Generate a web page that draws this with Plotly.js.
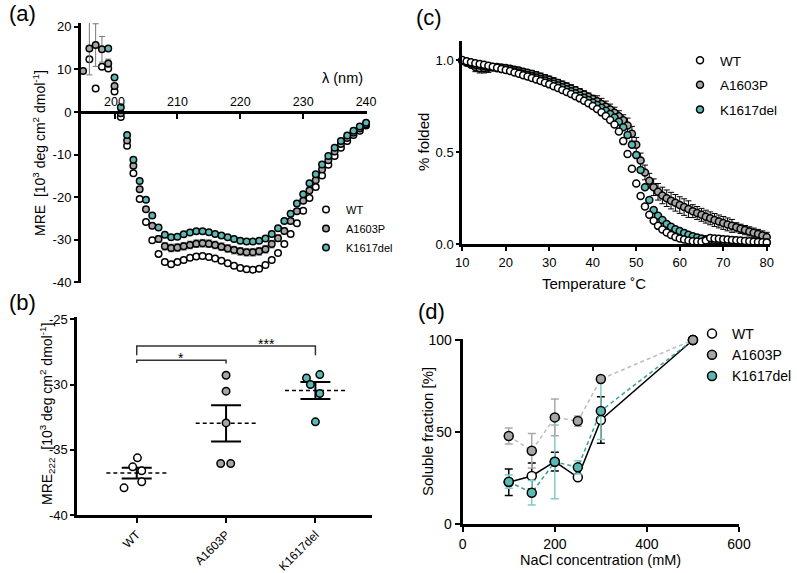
<!DOCTYPE html>
<html><head><meta charset="utf-8">
<script src="https://cdn.plot.ly/plotly-3.0.1.min.js"></script>
<style>html,body{margin:0;padding:0;background:#fff}#chart{width:797px;height:573px}</style>
</head><body><div id="chart"></div>
<script>
// ================= DATA =================
// (a) CD spectra
const cdWavelength = [195,196,197,198,199,200,201,202,203,204,205,206,207,208,209,210,211,212,213,214,215,216,217,218,219,220,221,222,223,224,225,226,227,228,229,230,231,232,233,234,235,236,237,238,239,240];
const cdWT = [null,12.4,5.5,10.6,10.2,4.8,-1.2,-7.9,-14.4,-20.4,-25.8,-30.1,-33.3,-35.2,-35.7,-35.2,-34.7,-34.2,-33.9,-33.8,-34.0,-34.4,-34.9,-35.5,-36.1,-36.6,-36.9,-37.0,-36.8,-35.9,-34.7,-33.1,-31.0,-28.6,-26.1,-23.2,-20.2,-17.6,-14.9,-12.4,-10.3,-8.4,-6.8,-5.4,-4.4,-3.2];
const cdA1603P = [9.6,14.9,15.7,14.7,11.4,6.1,-0.3,-6.7,-12.6,-18.1,-22.8,-26.7,-29.8,-31.5,-31.9,-31.8,-31.5,-31.2,-30.9,-30.8,-30.9,-31.2,-31.6,-32.0,-32.4,-32.7,-32.9,-32.9,-32.7,-32.2,-31.0,-29.6,-27.9,-25.6,-23.3,-20.8,-18.4,-16.0,-13.5,-11.3,-9.3,-7.5,-6.1,-4.9,-3.9,-2.9];
const cdA1603Perr = [0,6.2,5.0,3.0,1.0,0.5,0.5,0.5,0.5,0.5,0.5,0.6,0.8,0.9,0.9,0.9,0.9,0.9,0.9,0.9,0.9,0.9,0.9,0.9,0.9,0.9,0.9,0.9,0.9,0.9,0.9,0.8,0.7,0.6,0.5,0.5,0.5,0.5,0.5,0.5,0.4,0.4,0.4,0.4,0.4,0.4];
const cdK1617del = [null,null,null,null,14.9,8.1,1.1,-5.4,-11.2,-16.2,-20.6,-24.3,-27.1,-28.8,-29.4,-29.3,-28.7,-28.3,-28.0,-28.0,-28.2,-28.6,-29.0,-29.4,-29.8,-30.2,-30.4,-30.4,-30.2,-29.7,-28.6,-27.3,-25.6,-23.9,-21.5,-19.3,-16.7,-14.6,-12.3,-10.3,-8.4,-6.8,-5.5,-4.4,-3.4,-2.5];

// (b) MRE at 222 nm, individual replicates
const groups = ['WT','A1603P','K1617del'];
const mreWT = [-35.62,-36.31,-36.61,-37.92,-37.46];
const mreA1603P = [-29.29,-30.51,-32.94,-36.05,-36.05];
const mreK1617del = [-29.49,-29.24,-30.00,-30.69,-32.86];
const jitterWT = [0.008,-0.045,0.056,-0.142,0.056];
const jitterA1603P = [0,0,0,-0.06,0.052];
const jitterK1617del = [-0.1,0.049,-0.056,0.049,0];
const sigLabels = ['*','***'];

// (c) thermal melt
const temperature = [10,11,12,13,14,15,16,17,18,19,20,21,22,23,24,25,26,27,28,29,30,31,32,33,34,35,36,37,38,39,40,41,42,43,44,45,46,47,48,49,50,51,52,53,54,55,56,57,58,59,60,61,62,63,64,65,66,67,68,69,70,71,72,73,74,75,76,77,78,79,80];
const foldWT = [1.000,0.993,0.988,0.983,0.978,0.974,0.969,0.964,0.958,0.952,0.946,0.940,0.933,0.926,0.918,0.911,0.903,0.895,0.886,0.877,0.868,0.858,0.848,0.838,0.827,0.816,0.804,0.792,0.779,0.765,0.750,0.734,0.716,0.697,0.675,0.650,0.612,0.560,0.490,0.410,0.330,0.262,0.205,0.160,0.128,0.100,0.080,0.064,0.050,0.040,0.032,0.026,0.021,0.017,0.015,0.014,0.020,0.034,0.032,0.030,0.028,0.026,0.024,0.022,0.020,0.018,0.016,0.014,0.012,0.011,0.010];
const foldA1603P = [0.995,0.985,0.975,0.962,0.955,0.955,0.958,0.962,0.962,0.960,0.957,0.953,0.948,0.943,0.937,0.931,0.924,0.917,0.909,0.901,0.893,0.884,0.875,0.866,0.856,0.846,0.836,0.825,0.813,0.801,0.789,0.776,0.762,0.747,0.731,0.714,0.695,0.673,0.645,0.600,0.540,0.455,0.390,0.345,0.310,0.285,0.265,0.250,0.237,0.225,0.213,0.202,0.191,0.180,0.170,0.160,0.150,0.141,0.132,0.124,0.116,0.108,0.100,0.092,0.084,0.077,0.070,0.063,0.056,0.048,0.040];
const foldA1603Perr = [0.01,0.01,0.01,0.025,0.025,0.025,0.025,0.015,0.015,0.015,0.015,0.015,0.015,0.015,0.015,0.015,0.02,0.02,0.02,0.02,0.02,0.02,0.02,0.02,0.02,0.02,0.02,0.02,0.02,0.02,0.02,0.03,0.03,0.03,0.03,0.03,0.03,0.03,0.04,0.04,0.04,0.04,0.04,0.04,0.045,0.045,0.045,0.045,0.045,0.045,0.045,0.045,0.045,0.035,0.035,0.035,0.035,0.035,0.035,0.035,0.035,0.035,0.035,0.025,0.025,0.025,0.025,0.025,0.025,0.025,0.025];
const foldK1617del = [0.997,0.990,0.983,0.975,0.970,0.966,0.963,0.960,0.956,0.952,0.948,0.943,0.938,0.932,0.926,0.919,0.912,0.905,0.897,0.889,0.880,0.871,0.862,0.852,0.842,0.831,0.820,0.808,0.796,0.783,0.770,0.756,0.741,0.725,0.707,0.688,0.665,0.635,0.593,0.540,0.484,0.403,0.310,0.240,0.186,0.155,0.132,0.110,0.095,0.082,0.072,0.062,0.052,0.044,0.037,0.031,0.027,0.024,0.022,0.020,0.018,0.017,0.016,0.015,0.014,0.013,0.012,0.011,0.010,0.010,0.010];

// (d) solubility vs NaCl
const nacl = [100,150,200,250,300,500];
const solWT = [22.8,26.2,34.0,25.5,56.6,100];
const solWTerr = [7.2,7.0,5.1,1.0,12.6,0];
const solA1603P = [47.9,39.9,58.0,56.0,78.8,100];
const solA1603Perr = [4.4,9.4,10.0,2.8,0,0];
const solK1617del = [23.1,17.1,33.9,30.9,61.5,100];
const solK1617delerr = [3.6,6.6,20.0,3.6,15.5,0];

// ================= STYLE / LAYOUT =================
const W = 797, H = 573;
const px = v => v / W;
const py = v => 1 - v / H;
const F = 'Liberation Sans, Arial, Helvetica, sans-serif';
const TEAL = '#5cb8b2', GRAY = '#a6a6a6', WHITE = '#ffffff';

function axisBase(extra) {
  return Object.assign({
    showline: true, linecolor: '#000', linewidth: 3,
    ticks: 'outside', tickwidth: 2, ticklen: 4, tickcolor: '#000',
    showgrid: false, zeroline: false, fixedrange: true,
    tickfont: {family: F, size: 13, color: '#000'}
  }, extra);
}

const mk = (fill, size) => ({size: size, color: fill, line: {color: '#000', width: 1.5}});

const traces = [];

// ---- (a)
traces.push({x: cdWavelength, y: cdWT, xaxis: 'x', yaxis: 'y', mode: 'markers', name: 'WT',
  legend: 'legend', legendrank: 1, marker: mk(WHITE, 6.5), cliponaxis: false});
traces.push({x: cdWavelength, y: cdA1603P, xaxis: 'x', yaxis: 'y', mode: 'markers', name: 'A1603P',
  legend: 'legend', legendrank: 2, marker: mk(GRAY, 6.5), cliponaxis: false,
  error_y: {type: 'data', array: cdA1603Perr, color: '#777', thickness: 1, width: 3}});
traces.push({x: cdWavelength, y: cdK1617del, xaxis: 'x', yaxis: 'y', mode: 'markers', name: 'K1617del',
  legend: 'legend', legendrank: 3, marker: mk(TEAL, 6.5), cliponaxis: false});

// ---- (b)
const bSets = [[mreWT, jitterWT, WHITE], [mreA1603P, jitterA1603P, GRAY], [mreK1617del, jitterK1617del, TEAL]];
const means = [], sems = [];
bSets.forEach(([vals]) => {
  const n = vals.length;
  const m = vals.reduce((a, b) => a + b, 0) / n;
  const sd = Math.sqrt(vals.reduce((a, b) => a + (b - m) * (b - m), 0) / (n - 1));
  means.push(m); sems.push(sd / Math.sqrt(n));
});
means.forEach((m, i) => {
  traces.push({x: [i - 0.34, i + 0.34], y: [m, m], xaxis: 'x2', yaxis: 'y2', mode: 'lines',
    line: {color: '#000', width: 1.5, dash: '4px,3px'}, showlegend: false, hoverinfo: 'skip'});
});
traces.push({x: [0, 1, 2], y: means, xaxis: 'x2', yaxis: 'y2', mode: 'markers',
  marker: {size: 1, opacity: 0}, showlegend: false,
  error_y: {type: 'data', array: sems, color: '#000', thickness: 2, width: 15}});
bSets.forEach(([vals, jit, col], i) => {
  traces.push({x: jit.map(j => i + j), y: vals, xaxis: 'x2', yaxis: 'y2', mode: 'markers',
    marker: mk(col, 7.5), showlegend: false, cliponaxis: false});
});

// ---- (c)
traces.push({x: temperature, y: foldA1603P, xaxis: 'x3', yaxis: 'y3', mode: 'markers', name: 'A1603P',
  legend: 'legend2', legendrank: 2, legendgroup: 'c2', marker: mk(GRAY, 7), cliponaxis: false,
  error_y: {type: 'data', array: foldA1603Perr, color: '#000', thickness: 1, width: 3}});
traces.push({x: temperature, y: foldK1617del, xaxis: 'x3', yaxis: 'y3', mode: 'markers', name: 'K1617del',
  legend: 'legend2', legendrank: 3, legendgroup: 'c3', marker: mk(TEAL, 7), cliponaxis: false});
traces.push({x: temperature, y: foldWT, xaxis: 'x3', yaxis: 'y3', mode: 'markers', name: 'WT',
  legend: 'legend2', legendrank: 1, legendgroup: 'c1', marker: mk(WHITE, 7), cliponaxis: false});

// ---- (d)
traces.push({x: nacl, y: solWT, xaxis: 'x4', yaxis: 'y4', mode: 'lines+markers', showlegend: false,
  line: {color: '#000', width: 1.5}, marker: mk(WHITE, 9), cliponaxis: false,
  error_y: {type: 'data', array: solWTerr, color: '#000', thickness: 1.5, width: 4}});
traces.push({x: nacl, y: solK1617del, xaxis: 'x4', yaxis: 'y4', mode: 'lines+markers', showlegend: false,
  line: {color: '#3c9f9b', width: 1.5, dash: '4px,3px'}, marker: mk(TEAL, 9), cliponaxis: false,
  error_y: {type: 'data', array: solK1617delerr, color: '#7fcbc6', thickness: 1.5, width: 4}});
traces.push({x: nacl, y: solA1603P, xaxis: 'x4', yaxis: 'y4', mode: 'lines+markers', showlegend: false,
  line: {color: '#bdbdbd', width: 1.5, dash: '4px,3px'}, marker: mk(GRAY, 9), cliponaxis: false,
  error_y: {type: 'data', array: solA1603Perr, color: '#a9a9a9', thickness: 1.5, width: 4}});
// legend entries for (d)
[['WT', WHITE, 1], ['A1603P', GRAY, 2], ['K1617del', TEAL, 3]].forEach(([nm, col, r]) => {
  traces.push({x: [null], y: [null], xaxis: 'x4', yaxis: 'y4', mode: 'markers', name: nm,
    legend: 'legend3', legendrank: r, marker: mk(col, 9)});
});

const ann = (text, x, y, size, extra) => Object.assign({text: text, x: px(x), y: py(y), xref: 'paper', yref: 'paper',
  showarrow: false, font: {family: F, size: size, color: '#000'}, xanchor: 'center', yanchor: 'middle'}, extra || {});

const layout = {
  width: W, height: H, margin: {l: 0, r: 0, t: 0, b: 0},
  paper_bgcolor: '#fff', plot_bgcolor: 'rgba(0,0,0,0)',
  font: {family: F, color: '#000'},
  // (a)
  xaxis: axisBase({domain: [px(81), px(366.7)], range: [194.67, 240.1], anchor: 'free', position: py(112),
    side: 'top', ticks: 'inside', ticklen: 5, tickvals: [200, 210, 220, 230, 240], tickfont: {family: F, size: 12.5, color: '#000'}}),
  yaxis: axisBase({domain: [py(282.9), py(22.9)], range: [-40.1, 20.9], anchor: 'x',
    tickvals: [-40, -30, -20, -10, 0, 10, 20], ticktext: ['-40', '-30', '-20', '-10', '0', '10', '20']}),
  // (b)
  xaxis2: axisBase({domain: [px(77.3), px(371.7)], range: [-0.665, 2.63], anchor: 'y2',
    tickvals: [0, 1, 2], ticktext: groups, tickangle: -45, ticklen: 5, tickfont: {family: F, size: 12, color: '#000'}}),
  yaxis2: axisBase({domain: [py(515), py(316.7)], range: [-40, -24.8], anchor: 'x2',
    tickvals: [-40, -35, -30, -25], ticktext: ['-40', '-35', '-30', '-25']}),
  // (c)
  xaxis3: axisBase({domain: [px(462.3), px(770)], range: [10, 80.75], anchor: 'y3',
    tickvals: [10, 20, 30, 40, 50, 60, 70, 80]}),
  yaxis3: axisBase({domain: [py(244.3), py(40.7)], range: [0, 1.105], anchor: 'x3',
    tickvals: [0, 0.5, 1], ticktext: ['0.0', '0.5', '1.0'], ticklen: 3}),
  // (d)
  xaxis4: axisBase({domain: [px(462.7), px(739)], range: [0, 600], anchor: 'y4',
    tickvals: [0, 200, 400, 600], tickfont: {family: F, size: 14, color: '#000'}, ticklen: 5}),
  yaxis4: axisBase({domain: [py(524.3), py(338.5)], range: [0, 100.8], anchor: 'x4',
    tickvals: [0, 50, 100], tickfont: {family: F, size: 14, color: '#000'}, ticklen: 5}),
  legend: {x: px(306), y: py(195), xanchor: 'left', yanchor: 'top', bgcolor: 'rgba(0,0,0,0)',
    font: {family: F, size: 11, color: '#000'}},
  legend2: {x: px(680), y: py(45), xanchor: 'left', yanchor: 'top', bgcolor: 'rgba(0,0,0,0)',
    traceorder: 'grouped', tracegroupgap: 4, font: {family: F, size: 13.5, color: '#000'}},
  legend3: {x: px(692), y: py(318), xanchor: 'left', yanchor: 'top', bgcolor: 'rgba(0,0,0,0)',
    font: {family: F, size: 14, color: '#000'}},
  shapes: [
    {type: 'path', xref: 'x2', yref: 'y2', path: 'M 0,-28.35 L 0,-28.14 L 1,-28.14 L 1,-28.38',
      line: {color: '#333', width: 1.5}},
    {type: 'path', xref: 'x2', yref: 'y2', path: 'M 0,-27.76 L 0,-27.04 L 2,-27.04 L 2,-27.76',
      line: {color: '#333', width: 1.5}}
  ],
  annotations: [
    ann('(a)', 22, 14, 22),
    ann('(b)', 22, 302, 22),
    ann('(c)', 429, 17, 22),
    ann('(d)', 431, 311, 22),
    ann('λ (nm)', 342, 78, 14.5),
    ann('MRE  [10<sup>3</sup> deg cm<sup>2</sup> dmol<sup>-1</sup>]', 39, 153, 14, {textangle: -90}),
    ann('MRE<sub>222</sub>  [10<sup>3</sup> deg cm<sup>2</sup> dmol<sup>-1</sup>]', 47, 414, 14, {textangle: -90}),
    ann('% folded', 424, 142, 15, {textangle: -90}),
    ann('Temperature ˚C', 594, 284, 15),
    ann('Soluble fraction [%]', 427, 432, 15, {textangle: -90}),
    ann('NaCl concentration (mM)', 600, 560, 14.5),
    {text: sigLabels[0], x: 0.5, y: -28.0, xref: 'x2', yref: 'y2', showarrow: false,
      font: {family: F, size: 14, color: '#000'}, xanchor: 'center', yanchor: 'middle'},
    {text: sigLabels[1], x: 1.45, y: -26.93, xref: 'x2', yref: 'y2', showarrow: false,
      font: {family: F, size: 14, color: '#000'}, xanchor: 'center', yanchor: 'middle'}
  ]
};

Plotly.newPlot('chart', traces, layout, {displayModeBar: false, staticPlot: true});
</script>
</body></html>
